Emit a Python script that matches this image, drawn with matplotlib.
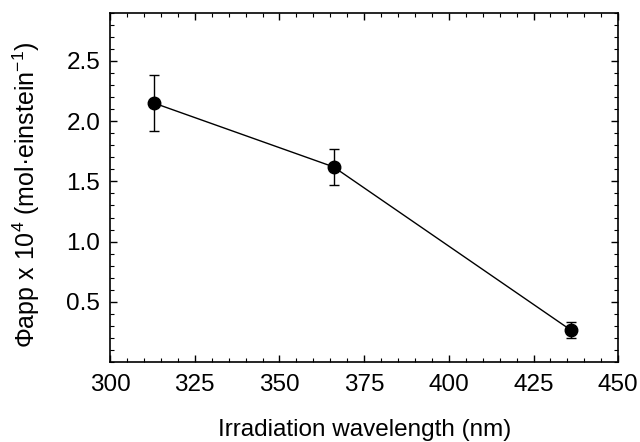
import matplotlib
matplotlib.use('Agg')
import matplotlib.pyplot as plt
from matplotlib.ticker import MultipleLocator

wavelength = [313, 366, 436]
phi_app = [2.15, 1.62, 0.265]
phi_err = [0.235, 0.15, 0.065]

plt.rcParams['font.family'] = ['Liberation Sans', 'DejaVu Sans']
plt.rcParams['mathtext.fontset'] = 'custom'
plt.rcParams['mathtext.rm'] = 'Liberation Sans'

fig = plt.figure(figsize=(6.4, 4.42), dpi=100)
ax = fig.add_axes([0.172, 0.181, 0.794, 0.790])

ax.errorbar(wavelength, phi_app, yerr=phi_err, color='black', lw=1.0,
            marker='o', ms=9, capsize=3.5, elinewidth=1.0, capthick=1.0)

ax.set_xlim(300, 450)
ax.set_ylim(0, 2.9)
ax.xaxis.set_major_locator(MultipleLocator(25))
ax.xaxis.set_minor_locator(MultipleLocator(5))
ax.set_yticks([0.5, 1.0, 1.5, 2.0, 2.5])
ax.yaxis.set_minor_locator(MultipleLocator(0.1))
ax.tick_params(which='both', direction='in', top=True, right=True, labelsize=17.5)
ax.tick_params(which='major', length=5, width=1)
ax.tick_params(which='minor', length=3, width=0.8)
ax.tick_params(axis='x', pad=9)
ax.tick_params(axis='y', pad=7)
for s in ax.spines.values():
    s.set_linewidth(1.2)

ax.set_xlabel('Irradiation wavelength (nm)', fontsize=17.5)
ax.xaxis.set_label_coords(0.5, -0.163)
ax.set_ylabel('\u03a6app x 10$^{4}$ (mol\u00b7einstein$^{\\mathrm{-1}}$)', fontsize=18)
ax.yaxis.set_label_coords(-0.134, 0.48)

fig.savefig('out.png', dpi=100)
